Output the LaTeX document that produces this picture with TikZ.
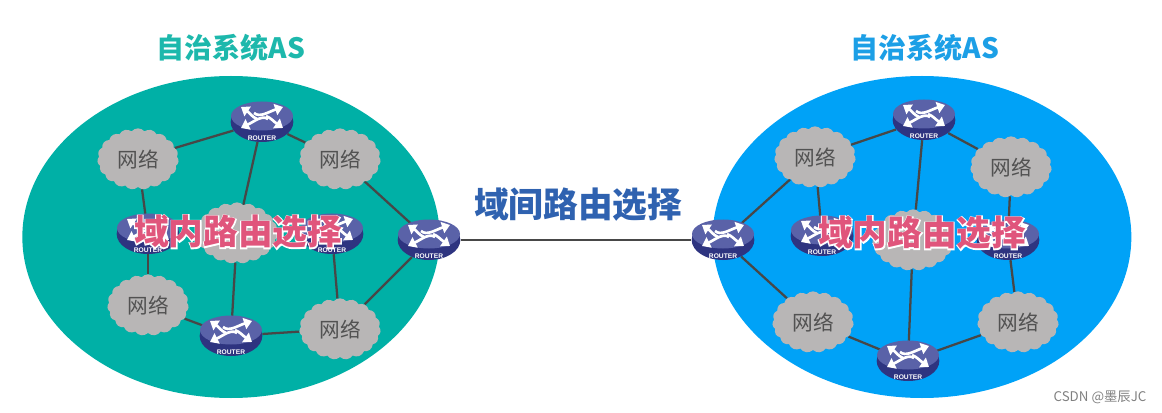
\documentclass[tikz,border=0pt]{standalone}
\usepackage{fontspec}
\setmainfont{Noto Sans CJK SC}
\newfontfamily\halofont[FakeBold=6]{Noto Sans CJK SC}
\newfontfamily\routerfont{Liberation Sans}
\usetikzlibrary{shapes.geometric,shapes.symbols,arrows.meta}
\definecolor{tealarea}{HTML}{00B0A6}
\definecolor{bluearea}{HTML}{00A2F7}
\definecolor{tealtitle}{HTML}{1DB8AC}
\definecolor{bluetitle}{HTML}{1C9FE6}
\definecolor{routertop}{HTML}{5A62A8}
\definecolor{routerbody}{HTML}{2E3480}
\definecolor{cloudgrey}{HTML}{B8B6B6}
\definecolor{pinktext}{HTML}{E0557C}
\definecolor{bluetext}{HTML}{2F62B0}
\pgfdeclarelayer{area}
\pgfdeclarelayer{links}
\pgfsetlayers{area,links,main}
\newcommand{\halotext}[2]{\rlap{\halofont\bfseries\color{white}#2}{\bfseries\color{#1}#2}}
\tikzset{
	router/.style={ellipse,fill=routerbody,inner sep=0pt,minimum width=47pt,minimum height=30pt},
	netcloud/.style={cloud,cloud puffs=19,cloud puff arc=100,cloud ignores aspect,fill=cloudgrey,inner sep=0pt,
		minimum width=61pt,minimum height=46pt,text=black!68,font=\fontsize{15.5}{15.5}\selectfont},
	area/.style={ellipse,inner sep=0pt},
	link/.style={draw=black!72,line width=1.7pt},
	title/.style={font=\fontsize{21}{21}\selectfont\bfseries},
	routerarrow/.style={white,line width=2pt,-{Triangle[length=6pt,width=8.5pt]}},
	routericon/.pic={
		\fill[routertop] (0,-6) ellipse [x radius=31,y radius=14.5];
		\draw[routerarrow] (-5,-3) .. controls (-10,-5) and (-12,-9) .. (-21,-15);
		\draw[routerarrow] (-8,-9) .. controls (-2,-4) and (6,-10) .. (21,-15);
		\draw[routerarrow] (6,-3) .. controls (0,-7) and (-7,-1) .. (-21,6);
		\draw[routerarrow] (4,-6) .. controls (9,-4) and (11,-1) .. (21,6);
		\node[text=white,inner sep=0pt,font=\routerfont\fontsize{5}{5}\selectfont\bfseries] (label) at (0,16) {ROUTER};
	}
}
\begin{document}
\begin{tikzpicture}[x=.75pt,y=-.75pt]
	\useasboundingbox (0,0) rectangle (1162,413);
	\begin{pgfonlayer}{area}
	\node[area,fill=tealarea,minimum width=313pt,minimum height=241.5pt] (asleft) at (231,237) {};
	\node[area,fill=bluearea,minimum width=314pt,minimum height=241.5pt] (asright) at (922,237) {};
	\end{pgfonlayer}

	\node[title,text=tealtitle] (titleleft) at (231,48) {自治系统AS};
	\node[title,text=bluetitle] (titleright) at (925,48) {自治系统AS};

	% left system
	\node[netcloud] (lc1) at (138,159) {网络};
	\node[netcloud] (lc2) at (340,159) {网络};
	\node[netcloud] (lc3) at (237,233) {};
	\node[netcloud] (lc4) at (148,305) {网络};
	\node[netcloud] (lc5) at (340,329) {网络};
	\foreach \name/\px/\py in {lr1/262/122,lr2/148/234,lr3/332/234,lr4/429/240,lr5/231/336}
	{
		\node[router] (\name) at (\px,\py) {};
		\pic (\name) at (\px,\py) {routericon};
	}

	% right system
	\node[netcloud] (rc1) at (815,157) {网络};
	\node[netcloud] (rc2) at (1011,167) {网络};
	\node[netcloud] (rc3) at (913,240) {};
	\node[netcloud] (rc4) at (813,322) {网络};
	\node[netcloud] (rc5) at (1018,322) {网络};
	\foreach \name/\px/\py in {rr1/924/120,rr2/822/236,rr3/1008/240,rr4/723/240,rr5/908/361}
	{
		\node[router] (\name) at (\px,\py) {};
		\pic (\name) at (\px,\py) {routericon};
	}

	\begin{pgfonlayer}{links}
	\foreach \from/\to in {lc1/lr1,lr1/lc2,lr1/lc3,lc1/lr2,lr2/lc4,lc4/lr5,lc3/lr5,lr5/lc5,lc5/lr3,lc5/lr4,lc2/lr4,lr4/rr4,rr4/rc1,rc1/rr1,rr1/rc2,rr1/rc3,rc1/rr2,rr4/rc4,rc4/rr5,rc3/rr5,rr5/rc5,rc5/rr3,rc2/rr3}
	\draw[link] (\from) -- (\to);
	\end{pgfonlayer}

	\node[inner sep=0pt,font=\fontsize{26}{26}\selectfont] (intraleft) at (238,232) {\halotext{pinktext}{域内路由选择}};
	\node[inner sep=0pt,font=\fontsize{26}{26}\selectfont] (intraright) at (922,233) {\halotext{pinktext}{域内路由选择}};
	\node[inner sep=0pt,font=\fontsize{26}{26}\selectfont] (inter) at (578,205) {\halotext{bluetext}{域间路由选择}};
	\node[inner sep=0pt,text=black!50,font=\fontsize{10}{10}\selectfont] (mark) at (1100,397) {CSDN @墨辰JC};
\end{tikzpicture}
\end{document}
